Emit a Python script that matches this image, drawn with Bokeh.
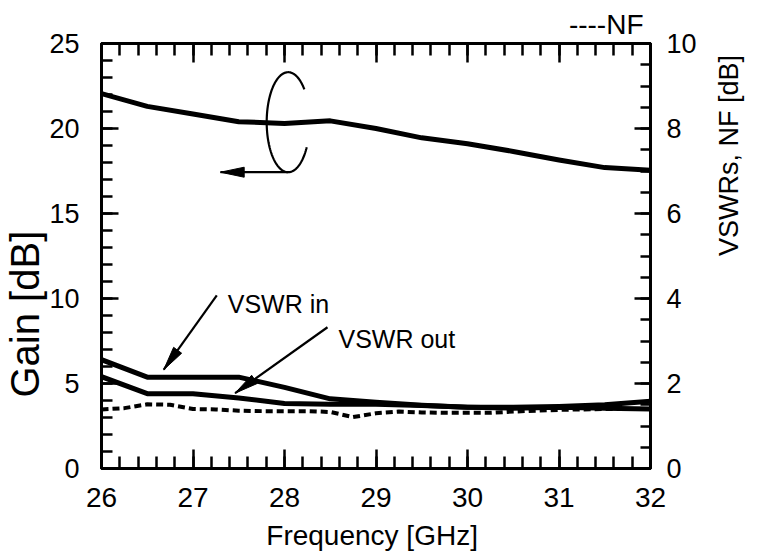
import numpy as np
from bokeh.plotting import figure
from bokeh.models import Range1d, LinearAxis, Title, FixedTicker
from bokeh.core.properties import value
from bokeh.embed import file_html
from bokeh.resources import INLINE

# ---------------- data ----------------
freq = [26.0, 26.5, 27.0, 27.5, 28.0, 28.5, 29.0, 29.5, 30.0, 30.5, 31.0, 31.5, 32.0]
gain = [22.05, 21.3, 20.85, 20.4, 20.3, 20.45, 20.0, 19.45, 19.1, 18.65, 18.15, 17.7, 17.55]
vswr_in = [2.56, 2.15, 2.15, 2.15, 1.91, 1.64, 1.56, 1.49, 1.44, 1.44, 1.46, 1.50, 1.58]
vswr_out = [2.16, 1.76, 1.76, 1.66, 1.53, 1.51, 1.51, 1.48, 1.44, 1.42, 1.44, 1.42, 1.40]
nf_freq = [26.0, 26.25, 26.5, 26.75, 27.0, 27.25, 27.5, 27.75, 28.0, 28.25, 28.5, 28.75,
           29.0, 29.25, 29.5, 29.75, 30.0, 30.25, 30.5, 30.75, 31.0, 31.25, 31.5, 31.75, 32.0]
nf = [1.39, 1.42, 1.51, 1.50, 1.40, 1.39, 1.36, 1.35, 1.35, 1.35, 1.33, 1.21,
      1.30, 1.34, 1.32, 1.31, 1.31, 1.31, 1.34, 1.36, 1.38, 1.39, 1.40, 1.40, 1.40]

x_ticks = [26, 27, 28, 29, 30, 31, 32]
gain_ticks = [0, 5, 10, 15, 20, 25]
right_ticks = [0, 2, 4, 6, 8, 10]

FONT = "Liberation Sans"
X0, X1, Y0, Y1 = 26, 32, 0, 25
PX_X = 555 / (X1 - X0)
PX_Y = 425 / (Y1 - Y0)

p = figure(width=761, height=554, x_range=Range1d(X0, X1), y_range=Range1d(Y0, Y1),
           output_backend="svg", toolbar_location=None,
           min_border_left=100, min_border_right=106, min_border_top=43, min_border_bottom=86)
p.extra_y_ranges = {"r": Range1d(0, 10)}
p.xgrid.visible = False
p.ygrid.visible = False
p.outline_line_color = "black"
p.outline_line_width = 3
p.background_fill_color = "white"
p.border_fill_color = "white"

x_minor = [round(v, 2) for v in np.arange(26, 32.01, 0.2)]
g_minor = list(range(0, 26))
r_minor = [round(v, 2) for v in np.arange(0, 10.01, 0.5)]


def style(ax, ticker, major_len, minor_len, font_size, standoff):
    ax.ticker = ticker
    ax.axis_line_width = 3
    ax.axis_line_color = "black"
    ax.major_tick_in = major_len
    ax.major_tick_out = 0
    ax.minor_tick_in = minor_len
    ax.minor_tick_out = 0
    ax.major_tick_line_width = 2.5
    ax.minor_tick_line_width = 2.5
    ax.major_tick_line_color = "black"
    ax.minor_tick_line_color = "black"
    ax.major_label_text_font = FONT
    ax.major_label_text_color = "black"
    ax.major_label_text_font_size = f"{font_size}px"
    ax.major_label_standoff = standoff
    ax.axis_label_text_font = FONT
    ax.axis_label_text_font_style = "normal"
    ax.axis_label_text_color = "black"


bottom = p.xaxis[0]
style(bottom, FixedTicker(ticks=x_ticks, minor_ticks=x_minor), 19, 12, 28, 19)
bottom.axis_label = "Frequency  [GHz]"
bottom.axis_label_text_font_size = "28px"
bottom.axis_label_standoff = 10

left = p.yaxis[0]
style(left, FixedTicker(ticks=gain_ticks, minor_ticks=g_minor), 17, 11, 27, 22)
left.axis_label = None

top = LinearAxis()
style(top, FixedTicker(ticks=x_ticks, minor_ticks=x_minor), 19, 12, 2, 0)
top.major_label_overrides = {t: "" for t in x_ticks}
top.axis_label = None
p.add_layout(top, "above")

right = LinearAxis(y_range_name="r")
style(right, FixedTicker(ticks=right_ticks, minor_ticks=r_minor), 16, 10, 27, 16)
right.axis_label = "VSWRs, NF [dB]"
right.axis_label_text_font_size = "27px"
right.axis_label_text_line_height = 0.8
right.axis_label_standoff = 29
if "axis_label_orientation" in right.properties():
    right.axis_label_orientation = np.pi / 2
p.add_layout(right, "right")

# titles placed in the side panels
p.add_layout(Title(text="Gain [dB]", align="left", offset=71, standoff=0,
                   text_font=FONT, text_font_size="40px", text_font_style="normal",
                   text_color="black"), "left")
p.add_layout(Title(text="----NF", align="right", offset=7, standoff=8,
                   text_font=FONT, text_font_size="28px", text_font_style="normal",
                   text_color="black"), "above")

# ---------------- series ----------------
p.line(nf_freq, nf, y_range_name="r", line_color="black", line_width=4, line_dash="7 4")
p.line(freq, vswr_out, y_range_name="r", line_color="black", line_width=5, line_join="round")
p.line(freq, vswr_in, y_range_name="r", line_color="black", line_width=5, line_join="round")
p.line(freq, gain, line_color="black", line_width=5, line_join="round")


# ---------------- annotations ----------------
def head(tail, tip, length=22, half=5):
    tx, ty = tail[0] * PX_X, tail[1] * PX_Y
    hx, hy = tip[0] * PX_X, tip[1] * PX_Y
    d = np.hypot(hx - tx, hy - ty)
    ux, uy = (hx - tx) / d, (hy - ty) / d
    bx, by = hx - ux * length, hy - uy * length
    nx, ny = -uy, ux
    xs = [hx, bx + nx * half, bx - nx * half]
    ys = [hy, by + ny * half, by - ny * half]
    return [v / PX_X for v in xs], [v / PX_Y for v in ys]


# ellipse marker around gain curve
ec_x, ec_y, ea, eb = 28.04, 20.37, 21.7 / PX_X, 50 / PX_Y
t = np.radians(np.linspace(41, 330, 120))
p.line(ec_x + ea * np.cos(t), ec_y + eb * np.sin(t), line_color="black", line_width=2.2)

arrows = [
    ((ec_x, ec_y - eb), (27.30, ec_y - eb), 24, 5),
    ((27.26, 10.18), (26.68, 5.81), 24, 5),
    ((28.47, 8.31), (27.46, 4.43), 24, 5),
]
for tail, tip, L, hw in arrows:
    p.segment(x0=[tail[0]], y0=[tail[1]], x1=[tip[0]], y1=[tip[1]],
              line_color="black", line_width=2.2)
    hx, hy = head(tail, tip, L, hw)
    p.patch(hx, hy, fill_color="black", line_color="black", line_width=1)

p.text(x=[27.38, 28.59], y=[9.69, 7.63], text=["VSWR in", "VSWR out"],
       text_font=value(FONT), text_font_size="25px", text_color="black",
       text_align="left", text_baseline="alphabetic")

open("out.html", "w").write(file_html(p, INLINE))
